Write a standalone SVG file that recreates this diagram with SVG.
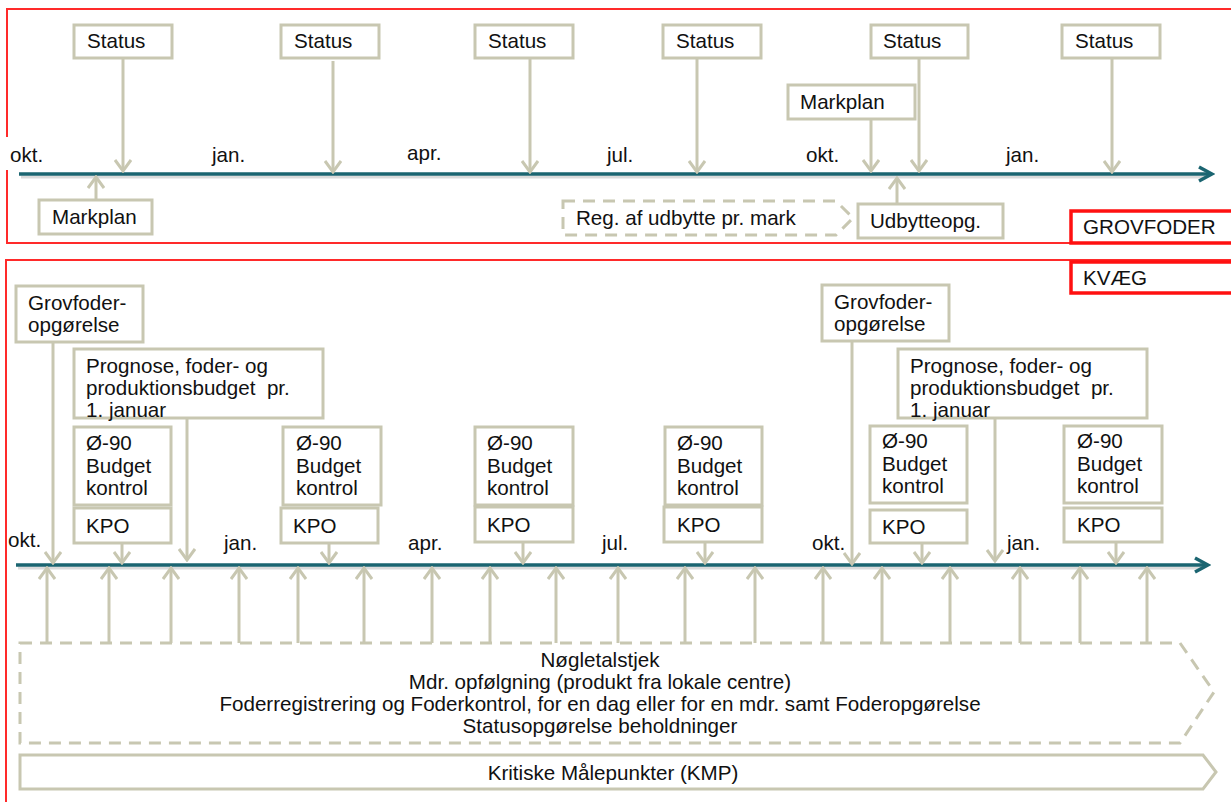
<svg xmlns="http://www.w3.org/2000/svg" width="1231" height="802" viewBox="0 0 1231 802">
<style>
text{font-family:"Liberation Sans",Arial,sans-serif;font-size:20.6px;fill:#111}
.bx{fill:#fff;stroke:#c8c7b1;stroke-width:3}
.dash{fill:#fff;stroke:#c8c7b1;stroke-width:3;stroke-dasharray:12 8}
.con{stroke:#c8c7b1;stroke-width:3;fill:none;marker-end:url(#ah)}
.tl{stroke:#1b6571;stroke-width:3.5;fill:none;marker-end:url(#th)}
.sh{stroke:#9a9a9a;stroke-width:3;opacity:0.35}
.frame{fill:none;stroke:#ff2a2a;stroke-width:2}
.lab{fill:#fff;stroke:#ff1010;stroke-width:3.5}
.c{text-anchor:middle}
</style>
<defs>
<marker id="ah" markerUnits="userSpaceOnUse" viewBox="0 0 16 18" refX="14" refY="9" markerWidth="16" markerHeight="18" orient="auto">
<path d="M3,1 L14,9 L3,17" fill="none" stroke="#c8c7b1" stroke-width="3"/>
</marker>
<marker id="th" markerUnits="userSpaceOnUse" viewBox="0 0 18 18" refX="15" refY="9" markerWidth="18" markerHeight="18" orient="auto">
<path d="M2,2 L15,9 L2,16" fill="none" stroke="#1b6571" stroke-width="3.5"/>
</marker>
</defs>

<g id="frames">
<rect class="frame" x="7" y="9" width="1240" height="234"/>
<rect class="frame" x="6" y="260" width="1240" height="560"/>
<rect x="4" y="137" width="40" height="33" fill="#fff"/>
</g>

<g id="timelines">
<line class="sh" x1="21" y1="177" x2="1205" y2="177"/>
<line class="tl" x1="19" y1="174" x2="1212" y2="174"/>
<line class="sh" x1="18" y1="568" x2="1203" y2="568"/>
<line class="tl" x1="16" y1="565" x2="1208" y2="565"/>
</g>

<g id="months">
<text x="10" y="162">okt.</text>
<text x="212" y="162">jan.</text>
<text x="407" y="160">apr.</text>
<text x="607" y="162">jul.</text>
<text x="806" y="162">okt.</text>
<text x="1006" y="162">jan.</text>
<text x="8" y="547">okt.</text>
<text x="224" y="550">jan.</text>
<text x="408" y="550">apr.</text>
<text x="602" y="550">jul.</text>
<text x="812" y="550">okt.</text>
<text x="1007" y="550">jan.</text>
</g>

<g id="connectors">
<line class="con" x1="123" y1="58" x2="123" y2="171"/>
<line class="con" x1="333" y1="61" x2="333" y2="172"/>
<line class="con" x1="530" y1="58" x2="530" y2="172"/>
<line class="con" x1="697" y1="58" x2="697" y2="172"/>
<line class="con" x1="919" y1="58" x2="919" y2="171"/>
<line class="con" x1="1112" y1="58" x2="1112" y2="172"/>
<line class="con" x1="871" y1="119" x2="871" y2="171"/>
<line class="con" x1="96" y1="200" x2="96" y2="177"/>
<line class="con" x1="897" y1="203" x2="897" y2="178"/>
<line class="con" x1="53" y1="342" x2="53" y2="563"/>
<line class="con" x1="187" y1="418" x2="187" y2="560"/>
<line class="con" x1="122" y1="543" x2="122" y2="563"/>
<line class="con" x1="329" y1="543" x2="329" y2="563"/>
<line class="con" x1="523" y1="542" x2="523" y2="563"/>
<line class="con" x1="705" y1="542" x2="705" y2="563"/>
<line class="con" x1="852" y1="341" x2="852" y2="564"/>
<line class="con" x1="995" y1="418" x2="995" y2="561"/>
<line class="con" x1="922" y1="543" x2="922" y2="563"/>
<line class="con" x1="1116" y1="542" x2="1116" y2="563"/>
<line class="con" x1="47" y1="643" x2="47" y2="568"/>
<line class="con" x1="109" y1="643" x2="109" y2="568"/>
<line class="con" x1="171" y1="643" x2="171" y2="568"/>
<line class="con" x1="239" y1="643" x2="239" y2="568"/>
<line class="con" x1="298" y1="643" x2="298" y2="568"/>
<line class="con" x1="364" y1="643" x2="364" y2="568"/>
<line class="con" x1="432" y1="643" x2="432" y2="568"/>
<line class="con" x1="490" y1="643" x2="490" y2="568"/>
<line class="con" x1="556" y1="643" x2="556" y2="568"/>
<line class="con" x1="618" y1="643" x2="618" y2="568"/>
<line class="con" x1="685" y1="643" x2="685" y2="568"/>
<line class="con" x1="755" y1="643" x2="755" y2="568"/>
<line class="con" x1="823" y1="643" x2="823" y2="568"/>
<line class="con" x1="882" y1="643" x2="882" y2="568"/>
<line class="con" x1="950" y1="643" x2="950" y2="568"/>
<line class="con" x1="1020" y1="643" x2="1020" y2="568"/>
<line class="con" x1="1080" y1="643" x2="1080" y2="568"/>
<line class="con" x1="1147" y1="643" x2="1147" y2="568"/>
</g>

<g id="status1"><rect class="bx" x="74" y="25" width="98" height="33"/><text x="87" y="48">Status</text></g>
<g id="status2"><rect class="bx" x="281" y="25" width="98" height="33"/><text x="294" y="48">Status</text></g>
<g id="status3"><rect class="bx" x="475" y="25" width="98" height="33"/><text x="488" y="48">Status</text></g>
<g id="status4"><rect class="bx" x="663" y="25" width="98" height="33"/><text x="676" y="48">Status</text></g>
<g id="status5"><rect class="bx" x="871" y="25" width="97" height="33"/><text x="883" y="48">Status</text></g>
<g id="status6"><rect class="bx" x="1062" y="25" width="98" height="33"/><text x="1075" y="48">Status</text></g>
<g id="markplan2"><rect class="bx" x="788" y="85" width="127" height="34"/><text x="800" y="109">Markplan</text></g>
<g id="markplan1"><rect class="bx" x="39" y="200" width="113" height="34"/><text x="52" y="224">Markplan</text></g>
<g id="regudbytte"><path class="dash" d="M563,201 L836,201 L853,218 L836,235 L563,235 Z"/><text x="576" y="225">Reg. af udbytte pr. mark</text></g>
<g id="udbytteopg"><rect class="bx" x="858" y="204" width="145" height="34"/><text x="870" y="228">Udbytteopg.</text></g>
<g id="grovfoder-label"><rect class="lab" x="1071" y="211" width="170" height="32"/><text x="1083" y="234">GROVFODER</text></g>
<g id="kvaeg-label"><rect class="lab" x="1071" y="262" width="170" height="31"/><text x="1083" y="285">KVÆG</text></g>

<g id="grovopg1"><rect class="bx" x="16" y="286" width="127" height="56"/><text x="28" y="310">Grovfoder-</text><text x="28" y="332">opgørelse</text></g>
<g id="prognose1"><rect class="bx" x="74" y="349" width="249" height="69"/><text x="86" y="373">Prognose, foder- og</text><text x="86" y="395" xml:space="preserve">produktionsbudget  pr.</text><text x="86" y="417">1. januar</text></g>
<g id="grovopg2"><rect class="bx" x="822" y="285" width="127" height="56"/><text x="834" y="309">Grovfoder-</text><text x="834" y="331">opgørelse</text></g>
<g id="prognose2"><rect class="bx" x="898" y="349" width="249" height="69"/><text x="910" y="373">Prognose, foder- og</text><text x="910" y="395" xml:space="preserve">produktionsbudget  pr.</text><text x="910" y="417">1. januar</text></g>

<g id="budget1"><rect class="bx" x="74" y="427" width="97" height="78"/><text x="86" y="450">Ø-90</text><text x="86" y="473">Budget</text><text x="86" y="495">kontrol</text></g>
<g id="kpo1"><rect class="bx" x="74" y="508" width="97" height="35"/><text x="86" y="533">KPO</text></g>
<g id="budget2"><rect class="bx" x="283" y="427" width="98" height="78"/><text x="296" y="450">Ø-90</text><text x="296" y="473">Budget</text><text x="296" y="495">kontrol</text></g>
<g id="kpo2"><rect class="bx" x="281" y="508" width="97" height="35"/><text x="293" y="533">KPO</text></g>
<g id="budget3"><rect class="bx" x="475" y="427" width="98" height="78"/><text x="487" y="450">Ø-90</text><text x="487" y="473">Budget</text><text x="487" y="495">kontrol</text></g>
<g id="kpo3"><rect class="bx" x="475" y="507" width="98" height="35"/><text x="487" y="532">KPO</text></g>
<g id="budget4"><rect class="bx" x="665" y="427" width="97" height="78"/><text x="677" y="450">Ø-90</text><text x="677" y="473">Budget</text><text x="677" y="495">kontrol</text></g>
<g id="kpo4"><rect class="bx" x="664" y="507" width="98" height="35"/><text x="677" y="532">KPO</text></g>
<g id="budget5"><rect class="bx" x="870" y="426" width="97" height="77"/><text x="882" y="448">Ø-90</text><text x="882" y="471">Budget</text><text x="882" y="493">kontrol</text></g>
<g id="kpo5"><rect class="bx" x="870" y="510" width="97" height="33"/><text x="882" y="534">KPO</text></g>
<g id="budget6"><rect class="bx" x="1064" y="426" width="98" height="77"/><text x="1077" y="448">Ø-90</text><text x="1077" y="471">Budget</text><text x="1077" y="493">kontrol</text></g>
<g id="kpo6"><rect class="bx" x="1064" y="508" width="98" height="34"/><text x="1077" y="532">KPO</text></g>

<g id="noegletal"><path class="dash" d="M20,643 L1180,643 L1214,692 L1180,743 L20,743 Z"/>
<text class="c" x="600" y="667">Nøgletalstjek</text>
<text class="c" x="600" y="689">Mdr. opfølgning (produkt fra lokale centre)</text>
<text class="c" x="600" y="711">Foderregistrering og Foderkontrol, for en dag eller for en mdr. samt Foderopgørelse</text>
<text class="c" x="600" y="733">Statusopgørelse beholdninger</text></g>
<g id="kmp"><path class="bx" d="M20,755 L1203,755 L1216,772 L1203,789 L20,789 Z"/><text class="c" x="613" y="780">Kritiske Målepunkter (KMP)</text></g>
</svg>
